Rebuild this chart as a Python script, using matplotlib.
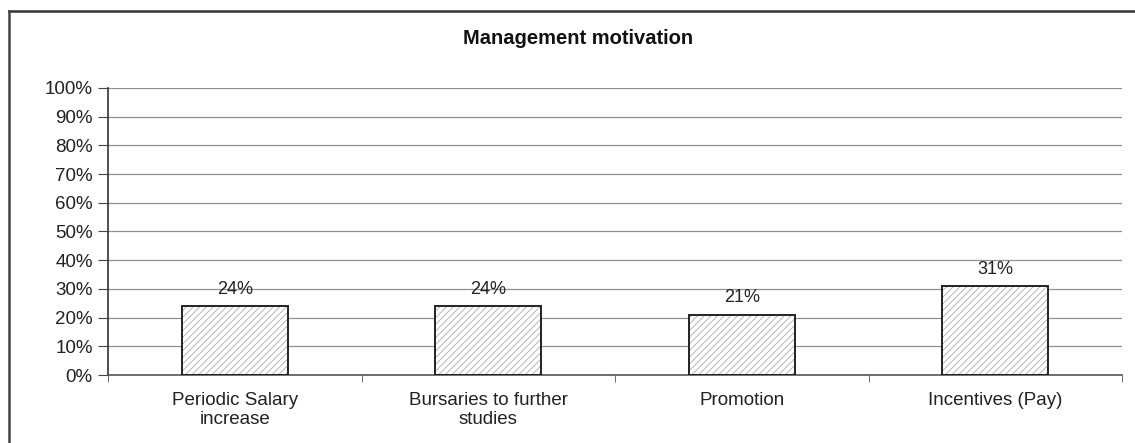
import matplotlib
matplotlib.use("Agg")
import matplotlib.pyplot as plt
from matplotlib.lines import Line2D
from matplotlib.ticker import FixedLocator, PercentFormatter
import numpy as np

categories = ["Periodic Salary\nincrease", "Bursaries to further\nstudies", "Promotion", "Incentives (Pay)"]
values = [24, 24, 21, 31]
value_labels = ["24%", "24%", "21%", "31%"]
yticks = [0, 10, 20, 30, 40, 50, 60, 70, 80, 90, 100]
title = "Management motivation"

plt.rcParams['font.family'] = ['Liberation Sans', 'DejaVu Sans']
plt.rcParams['hatch.linewidth'] = 0.6
plt.rcParams['hatch.color'] = '#aaaaaa'

W, H = 1135, 443
fig = plt.figure(figsize=(W / 100, H / 100), dpi=100)
left, right, bottom_px, top_px = 108, 1122, 375, 88
ax = fig.add_axes([left / W, (H - bottom_px) / H, (right - left) / W, (bottom_px - top_px) / H])

x = np.arange(len(categories))
bw = 0.42
ax.bar(x, values, width=bw, color='white', edgecolor='#aaaaaa', linewidth=0, hatch='/////', zorder=2)
ax.bar(x, values, width=bw, fill=False, edgecolor='#222222', linewidth=1.4, zorder=3)

for xi, v, lab in zip(x, values, value_labels):
    ax.annotate(lab, (xi, v), xytext=(0, 6), textcoords='offset points',
                ha='center', va='bottom', fontsize=13, color='#222222', zorder=4)

ax.set_xlim(-0.5, len(categories) - 0.5)
ax.set_ylim(0, 100)
ax.set_yticks(yticks)
ax.yaxis.set_major_formatter(PercentFormatter(decimals=0))
ax.set_xticks(x)
ax.set_xticklabels(categories, fontsize=13.5, color='#222222', linespacing=1.15)
ax.xaxis.set_minor_locator(FixedLocator(np.arange(-0.5, len(categories), 1.0)))
ax.tick_params(axis='x', which='major', length=0, pad=12)
ax.tick_params(axis='x', which='minor', length=5, color='#555555', direction='out')
ax.tick_params(axis='y', length=7, color='#444444', labelsize=13.5, labelcolor='#222222', pad=4)

ax.grid(axis='y', color='#909090', linewidth=0.9, zorder=0)
ax.set_axisbelow(True)
for s in ['top', 'right']:
    ax.spines[s].set_visible(False)
ax.spines['left'].set_color('#333333')
ax.spines['left'].set_linewidth(1.2)
ax.spines['bottom'].set_color('#555555')
ax.spines['bottom'].set_linewidth(1.2)

fig.text(578 / W, 1 - 38 / H, title, ha='center', va='center', fontsize=14.5, fontweight='bold', color='#111111')

# outer frame (top and left edges visible)
fig.add_artist(Line2D([9 / W, 1.0], [1 - 11 / H, 1 - 11 / H], transform=fig.transFigure, color='#333333', linewidth=1.8))
fig.add_artist(Line2D([9 / W, 9 / W], [1 - 11 / H, 0.0], transform=fig.transFigure, color='#444444', linewidth=1.8))

fig.savefig("out.png", dpi=100)
